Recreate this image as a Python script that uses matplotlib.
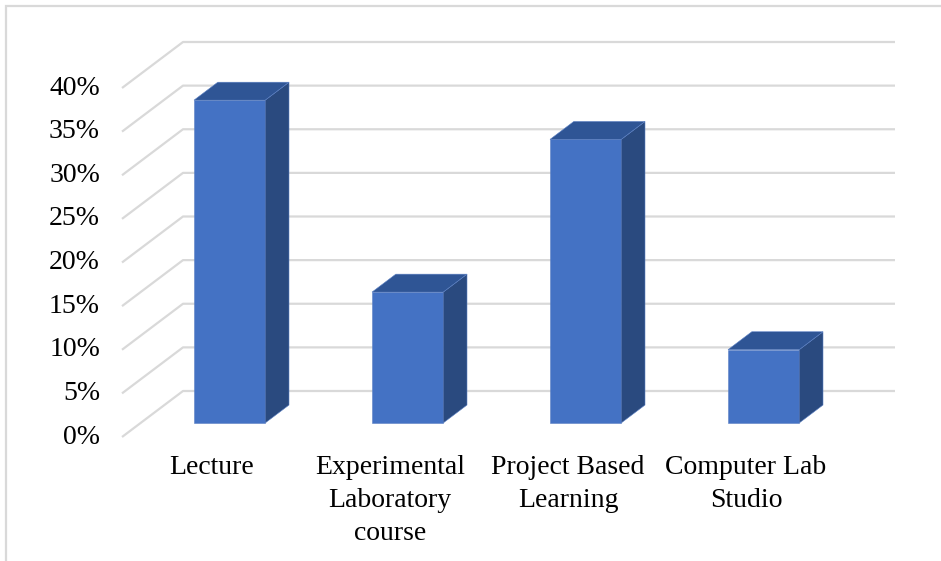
import matplotlib.pyplot as plt

# survey shares by teaching format (percent)
categories = ["Lecture", "Experimental\nLaboratory\ncourse",
              "Project Based\nLearning", "Computer Lab\nStudio"]
shares = [37.0, 15.0, 32.5, 8.4]
tick_values = [0, 5, 10, 15, 20, 25, 30, 35, 40]
tick_labels = [f"{v}%" for v in tick_values]

# oblique "3-D" layout, in pixels of the output image
X0, Y0 = 122, 437          # front-left corner of the floor
CAT_W = 178                # width of one category slot
PX_PER_PCT = 8.725         # vertical scale
DEPTH_X, DEPTH_Y = 61, 46  # offset from front plane to back wall
BAR_W = 0.4                # fraction of a slot
BAR_D0, BAR_D1 = 0.305, 0.695

FRONT = "#4472C4"
TOP = "#2F5595"
SIDE = "#2A4A7F"
GRID = "#D9D9D9"
FONT = dict(family="Liberation Serif", fontsize=20, color="black")


def proj(cat, pct, depth):
    x = X0 + cat * CAT_W + depth * DEPTH_X
    y = Y0 - pct * PX_PER_PCT - depth * DEPTH_Y
    return x, y


fig = plt.figure(figsize=(9.41, 5.61), dpi=100)
ax = fig.add_axes([0, 0, 1, 1])
ax.set_xlim(0, 941)
ax.set_ylim(561, 0)
ax.axis("off")

# outer chart-area frame (only top and left fall inside the image)
ax.plot([6.5, 6.5, 960], [600, 5.5, 5.5], color="#D9D9D9", lw=1.6,
        solid_joinstyle="miter")

ncat = len(categories)
for v, lab in zip(tick_values, tick_labels):
    fx, fy = proj(0, v, 0)
    bx, by = proj(0, v, 1)
    ex, ey = proj(ncat, v, 1)
    ax.plot([fx, bx, ex], [fy, by, ey], color=GRID, lw=1.6,
            solid_capstyle="butt", zorder=1)
    ax.text(fx - 22, fy, lab, ha="right", va="center", **FONT)

for i, val in enumerate(shares):
    left = i + (1 - BAR_W) / 2
    right = left + BAR_W
    fl0 = proj(left, 0, BAR_D0)
    fr0 = proj(right, 0, BAR_D0)
    flt = proj(left, val, BAR_D0)
    frt = proj(right, val, BAR_D0)
    blt = proj(left, val, BAR_D1)
    brt = proj(right, val, BAR_D1)
    br0 = proj(right, 0, BAR_D1)

    front = [fl0, fr0, frt, flt]
    side = [fr0, br0, brt, frt]
    top = [flt, frt, brt, blt]
    for poly, col in ((front, FRONT), (side, SIDE), (top, TOP)):
        xs, ys = zip(*poly)
        ax.fill(xs, ys, facecolor=col, edgecolor="#5B80C4", lw=0.4,
                zorder=3)

    cx, _ = proj(i + 0.5, 0, 0)
    ax.text(cx + 1, 455, categories[i], ha="center", va="top",
            linespacing=1.42, **FONT)

fig.savefig("out.png", dpi=100)
